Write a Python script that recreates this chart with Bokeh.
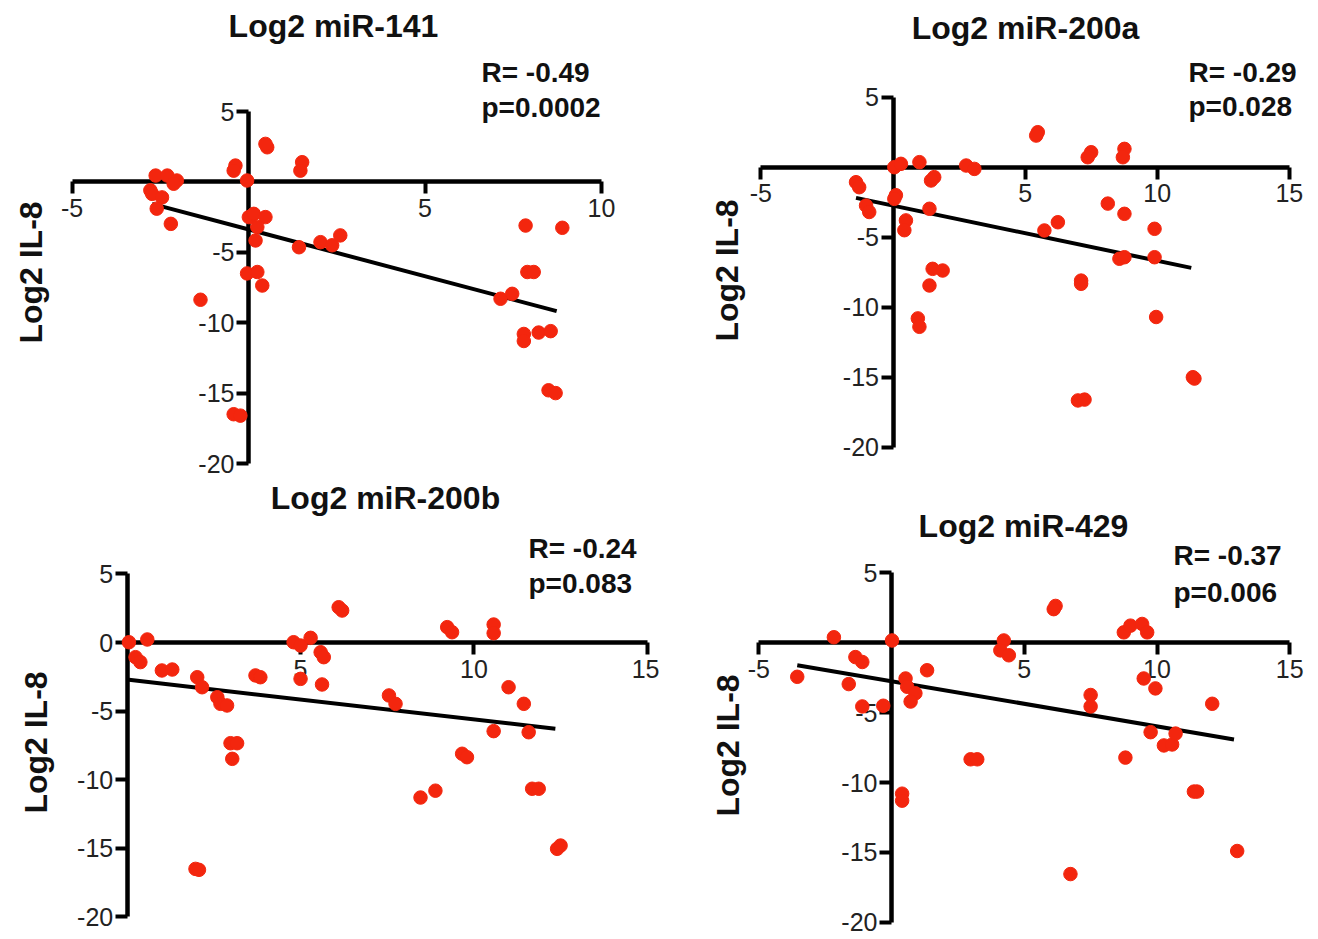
from bokeh.plotting import figure
from bokeh.models import LinearAxis, FixedTicker, Label, Range1d
from bokeh.layouts import column, row
from bokeh.embed import file_html
from bokeh.resources import INLINE
import math

# ---------------- data ----------------
titles = ["Log2 miR-141", "Log2 miR-200a", "Log2 miR-200b", "Log2 miR-429"]
r_texts = ["R= -0.49", "R= -0.29", "R= -0.24", "R= -0.37"]
p_texts = ["p=0.0002", "p=0.028", "p=0.083", "p=0.006"]
y_label = "Log2 IL-8"

mir141_x = [-2.63, -2.3, -2.03, -2.12, -2.78, -2.73, -2.45, -2.6, -2.2, -0.37, -0.42, -0.04, 0.53, 0.48,
            1.52, 1.47, 0.01, 0.15, 0.48, 0.25, 0.2, -0.04, 0.25, 0.39, -1.36, -0.42, -0.23, 1.43, 2.04,
            2.37, 2.6, 7.85, 8.89, 7.9, 8.08, 7.14, 7.47, 7.8, 7.8, 8.22, 8.56, 8.5, 8.7]
mir141_y = [0.45, 0.45, 0.1, -0.13, -0.6, -0.85, -1.1, -1.9, -2.98, 1.16, 0.8, 0.1, 2.46, 2.7,
            1.4, 0.8, -2.5, -2.27, -2.5, -3.2, -4.16, -6.5, -6.4, -7.36, -8.37, -16.5, -16.6, -4.64, -4.28,
            -4.5, -3.8, -3.1, -3.26, -6.4, -6.4, -8.3, -7.95, -10.8, -11.3, -10.7, -10.6, -14.8, -15.0]

mir200a_x = [0.05, 0.3, 1.0, 2.77, 3.08, 1.56, 1.44, -1.4, -1.28, -1.02, -0.9, 0.11, 0.05, 1.38, 0.49,
             0.43, 1.5, 1.88, 1.38, 0.94, 1.0, 5.48, 5.42, 7.5, 7.37, 8.76, 8.7, 8.13, 8.76, 9.9, 5.73,
             6.24, 8.57, 8.76, 9.9, 7.12, 7.12, 9.96, 11.35, 11.41, 7.0, 7.25]
mir200a_y = [0.0, 0.24, 0.36, 0.12, -0.12, -0.71, -0.95, -1.07, -1.43, -2.74, -3.2, -2.0, -2.26, -2.97, -3.8,
             -4.5, -7.26, -7.38, -8.45, -10.8, -11.4, 2.5, 2.26, 1.07, 0.71, 1.31, 0.71, -2.6, -3.33, -4.4, -4.52,
             -3.93, -6.54, -6.43, -6.43, -8.1, -8.33, -10.7, -15.0, -15.1, -16.66, -16.6]

mir200b_x = [0.05, 0.58, 0.24, 0.38, 1.0, 1.3, 2.02, 2.16, 2.6, 2.69, 2.88, 2.98, 3.17, 3.03, 1.97, 2.07,
             3.7, 3.84, 4.8, 5.0, 5.29, 5.58, 5.67, 5.0, 5.62, 6.1, 6.2, 7.55, 7.74, 9.23, 9.37, 10.57,
             10.57, 11.0, 11.44, 10.57, 11.58, 9.66, 9.8, 8.46, 8.89, 11.68, 11.87, 12.4, 12.5]
mir200b_y = [0.02, 0.22, -1.07, -1.43, -2.04, -1.97, -2.53, -3.26, -3.99, -4.47, -4.59, -7.34, -7.34, -8.48,
             -16.5, -16.57, -2.4, -2.53, 0.02, -0.22, 0.34, -0.71, -1.07, -2.65, -3.06, 2.57, 2.33, -3.86,
             -4.47, 1.12, 0.75, 1.31, 0.68, -3.26, -4.47, -6.46, -6.54, -8.11, -8.36, -11.3, -10.8, -10.66,
             -10.66, -15.04, -14.8]

mir429_x = [-2.17, 0.02, -1.36, -1.1, -3.55, 1.34, -1.61, 0.53, 0.59, 0.9, 0.72, -1.1, -0.31, 0.4, 0.4,
            2.98, 3.23, 4.23, 4.1, 4.42, 6.18, 6.11, 8.75, 9.0, 9.44, 9.63, 9.5, 9.94, 7.5, 7.5, 12.08,
            9.76, 10.26, 10.57, 10.7, 8.81, 11.39, 11.51, 13.02, 6.74]
mir429_y = [0.39, 0.16, -1.03, -1.38, -2.44, -1.97, -2.96, -2.56, -3.15, -3.62, -4.21, -4.56, -4.51, -10.8,
            -11.3, -8.34, -8.34, 0.16, -0.55, -0.9, 2.63, 2.4, 0.74, 1.22, 1.34, 0.74, -2.56, -3.27, -3.74,
            -4.56, -4.37, -6.4, -7.35, -7.28, -6.5, -8.22, -10.65, -10.65, -14.9, -16.55]

# regression line end points
fit141_x = [-2.73, 8.73]
fit141_y = [-1.56, -9.18]
fit200a_x = [-1.4, 11.29]
fit200a_y = [-2.19, -7.19]
fit200b_x = [0.05, 12.35]
fit200b_y = [-2.72, -6.29]
fit429_x = [-3.55, 12.9]
fit429_y = [-1.61, -6.92]

xticks_list = [[-5, 5, 10], [-5, 5, 10, 15], [5, 10, 15], [-5, 5, 10, 15]]
yticks_list = [[-20, -15, -10, -5, 5], [-20, -15, -10, -5, 5], [-20, -15, -10, -5, 0, 5], [-20, -15, -10, -5, 5]]
xbounds_list = [(-5, 10), (-5, 15), (0, 15), (-5, 15)]
ybounds_list = [(-20, 5), (-20, 5), (-20, 5), (-20, 5)]

# ---------------- layout (pixel calibration) ----------------
FONT = "Liberation Sans"
RED = "#f3260e"

# ox, oy, w, h, zero_x_px, zero_y_px, px_per_unit_x, px_per_unit_y  (picture coordinates)
calib = [
    (0, 0, 659, 478, 248.0, 181.4, 35.3, 14.08),
    (659, 0, 651, 478, 892.5, 166.7, 26.42, 14.0),
    (0, 478, 659, 460, 126.7, 642.0, 34.67, 13.72),
    (659, 478, 651, 460, 891.0, 642.2, 26.55, 13.98),
]
# text anchor positions in picture pixels
title_pos = [(333, 25), (1025, 27), (385, 497), (1023, 525)]
r_pos = [(481, 72), (1188, 72), (528, 548), (1173, 555)]
p_pos = [(481, 107), (1188, 106), (528, 583), (1173, 592)]
ylab_pos = [(30, 272), (726, 270), (35, 742), (727, 745)]

xs = [mir141_x, mir200a_x, mir200b_x, mir429_x]
ys = [mir141_y, mir200a_y, mir200b_y, mir429_y]
fxs = [fit141_x, fit200a_x, fit200b_x, fit429_x]
fys = [fit141_y, fit200a_y, fit200b_y, fit429_y]


def make_panel(i):
    ox, oy, w, h, zx, zy, kx, ky = calib[i]
    xr = Range1d((ox - zx) / kx, (ox + w - zx) / kx)
    yr = Range1d((zy - (oy + h)) / ky, (zy - oy) / ky)
    p = figure(width=w, height=h, x_range=xr, y_range=yr, output_backend="svg",
               toolbar_location=None, x_axis_location=None, y_axis_location=None,
               min_border=0, outline_line_color=None, background_fill_color="white",
               border_fill_color="white")
    p.grid.visible = False
    for r in list(p.center):
        r.visible = False

    def to_data(px, py):
        return (px - zx) / kx, (zy - py) / ky

    common = dict(fixed_location=0, axis_line_width=4.5, axis_line_color="black",
                  major_tick_line_width=4, major_tick_line_color="black",
                  major_tick_in=0, minor_tick_out=0, minor_tick_in=0,
                  major_label_text_font=FONT, major_label_text_font_size="25px",
                  major_label_text_color="#222222", level="underlay")
    xa = LinearAxis(ticker=FixedTicker(ticks=xticks_list[i]), bounds=xbounds_list[i],
                    major_label_overrides={t: str(t) for t in xticks_list[i]},
                    major_tick_out=12, major_label_standoff=5, **common)
    ya = LinearAxis(ticker=FixedTicker(ticks=yticks_list[i]), bounds=ybounds_list[i],
                    major_label_overrides={t: str(t) for t in yticks_list[i]},
                    major_tick_out=12, major_label_standoff=2, **common)
    p.add_layout(xa, "below")
    p.add_layout(ya, "left")

    p.line(fxs[i], fys[i], line_width=4, line_color="black")
    p.scatter(xs[i], ys[i], size=13.5, fill_color=RED, line_color=RED)

    tx, ty = to_data(*title_pos[i])
    p.add_layout(Label(x=tx, y=ty, text=titles[i], text_font=FONT, text_font_size="32px",
                       text_font_style="bold", text_align="center", text_baseline="middle",
                       text_color="#111111"))
    rx, ry = to_data(*r_pos[i])
    p.add_layout(Label(x=rx, y=ry, text=r_texts[i], text_font=FONT, text_font_size="28px",
                       text_font_style="bold", text_align="left", text_baseline="middle",
                       text_color="#111111"))
    qx, qy = to_data(*p_pos[i])
    p.add_layout(Label(x=qx, y=qy, text=p_texts[i], text_font=FONT, text_font_size="28px",
                       text_font_style="bold", text_align="left", text_baseline="middle",
                       text_color="#111111"))
    lx, ly = to_data(*ylab_pos[i])
    p.add_layout(Label(x=lx, y=ly, text=y_label, text_font=FONT, text_font_size="32px",
                       text_font_style="bold", text_align="center", text_baseline="middle",
                       angle=math.pi / 2, text_color="#111111"))
    return p


panels = [make_panel(i) for i in range(4)]
layout = column(row(panels[0], panels[1]), row(panels[2], panels[3]))

open("out.html", "w").write(file_html(layout, INLINE))
